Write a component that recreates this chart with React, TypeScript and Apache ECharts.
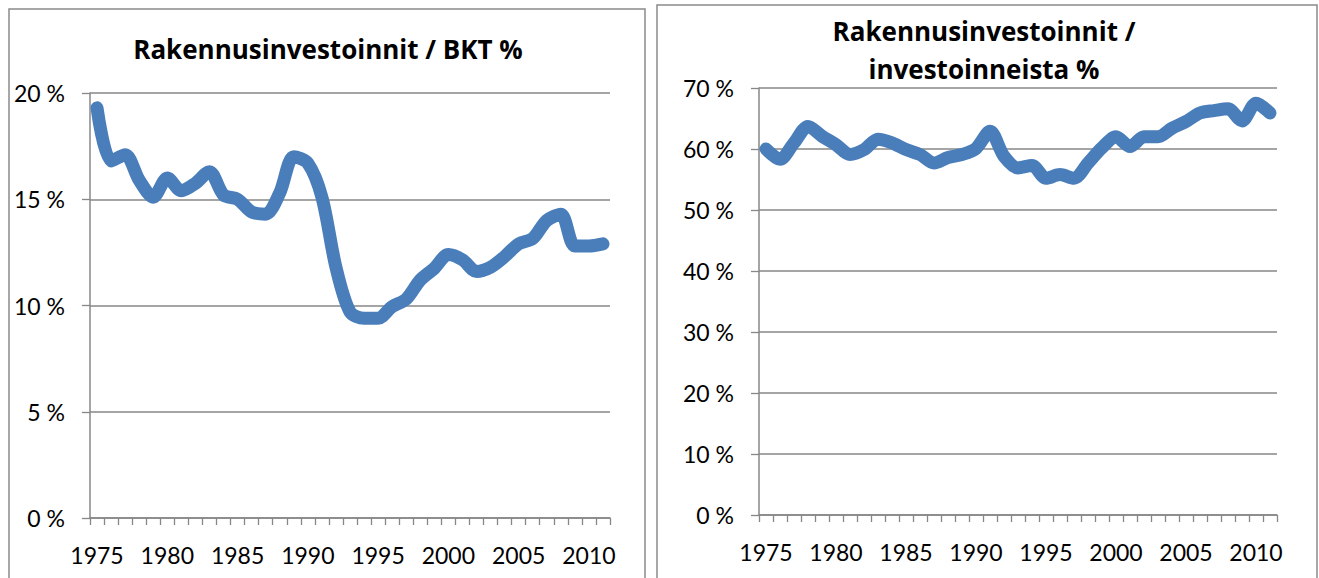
import React, { useEffect, useRef } from "react";
import * as echarts from "echarts";

const years: string[] = [
  "1975","1976","1977","1978","1979","1980","1981","1982","1983","1984",
  "1985","1986","1987","1988","1989","1990","1991","1992","1993","1994",
  "1995","1996","1997","1998","1999","2000","2001","2002","2003","2004",
  "2005","2006","2007","2008","2009","2010","2011",
];

// Rakennusinvestoinnit / BKT %
const gdpShare: number[] = [
  19.3, 16.8, 17.1, 15.9, 15.1, 16.0, 15.4, 15.75, 16.3, 15.2,
  15.0, 14.4, 14.3, 15.3, 17.0, 16.7, 15.1, 11.8, 9.7, 9.4,
  9.4, 9.95, 10.3, 11.2, 11.75, 12.4, 12.15, 11.6, 11.8, 12.3,
  12.9, 13.15, 14.0, 14.3, 12.8, 12.8, 12.9,
];

// Rakennusinvestoinnit / investoinneista %
const investShare: number[] = [
  60.0, 58.3, 61.0, 63.7, 62.1, 60.7, 59.1, 59.9, 61.6, 61.0,
  59.9, 59.1, 57.7, 58.6, 59.1, 60.1, 62.9, 58.8, 56.9, 57.3,
  55.2, 55.8, 55.2, 57.7, 60.2, 62.0, 60.4, 62.0, 62.0, 63.4,
  64.5, 65.9, 66.3, 66.6, 64.6, 67.5, 65.9,
];

const leftTitle = "Rakennusinvestoinnit / BKT %";
const rightTitle = "Rakennusinvestoinnit /\ninvestoinneista %";

const FONT = "Lato, 'Open Sans', sans-serif";
const TITLE_FONT = "'Open Sans', Lato, sans-serif";
const GRID = "#878787";
const BLUE = "#4A7EBB";
const RED = "#C0504D";

function xAxisCfg(gridIndex: number) {
  return {
    type: "category" as const,
    gridIndex,
    data: years,
    boundaryGap: true,
    axisLine: { show: true, lineStyle: { color: GRID, width: 1.5 } },
    axisTick: { show: true, interval: 0, length: 7, lineStyle: { color: GRID, width: 1.3 } },
    axisLabel: { interval: 4, margin: 25, fontSize: 23, color: "#000", fontFamily: FONT },
    splitLine: { show: false },
  };
}

function yAxisCfg(gridIndex: number, max: number, interval: number) {
  return {
    type: "value" as const,
    gridIndex,
    min: 0,
    max,
    interval,
    axisLine: { show: true, lineStyle: { color: GRID, width: 1.5 } },
    axisTick: { show: true, length: 8, lineStyle: { color: GRID, width: 1.3 } },
    axisLabel: {
      margin: 25,
      fontSize: 23,
      color: "#000",
      fontFamily: FONT,
      formatter: (v: number) => `${v} %`,
    },
    splitLine: { show: true, lineStyle: { color: GRID, width: 1.5 } },
  };
}

export default function App() {
  const ref = useRef<HTMLDivElement>(null);
  useEffect(() => {
    if (!ref.current) return;
    const chart = echarts.init(ref.current, null, { renderer: "svg" });
    chart.setOption({
      animation: false,
      backgroundColor: "#fff",
      title: [
        {
          text: leftTitle,
          left: 328,
          top: 34,
          padding: 0,
          textAlign: "center",
          textStyle: { fontFamily: TITLE_FONT, fontWeight: "bold", fontSize: 26, color: "#000", lineHeight: 30 },
        },
        {
          text: rightTitle,
          left: 984,
          top: 12,
          padding: 0,
          textAlign: "center",
          textStyle: { fontFamily: TITLE_FONT, fontWeight: "bold", fontSize: 26, color: "#000", lineHeight: 38 },
        },
      ],
      graphic: [
        { type: "rect", shape: { x: 9, y: 9, width: 636, height: 600 }, style: { fill: "none", stroke: "#8a8a8a", lineWidth: 1.5 }, silent: true },
        { type: "rect", shape: { x: 657, y: 5, width: 660, height: 600 }, style: { fill: "none", stroke: "#8a8a8a", lineWidth: 1.5 }, silent: true },
      ],
      grid: [
        { left: 90, top: 93, width: 520, height: 425 },
        { left: 759, top: 88, width: 518, height: 427 },
      ],
      xAxis: [xAxisCfg(0), xAxisCfg(1)],
      yAxis: [yAxisCfg(0, 20, 5), yAxisCfg(1, 70, 10)],
      series: [
        { type: "line", xAxisIndex: 0, yAxisIndex: 0, data: gdpShare, showSymbol: false, smooth: false, lineStyle: { color: RED, width: 1.5 }, z: 2 },
        { type: "line", xAxisIndex: 0, yAxisIndex: 0, data: gdpShare, showSymbol: false, smooth: 0.3, lineStyle: { color: BLUE, width: 13, cap: "round", join: "round" }, z: 3 },
        { type: "line", xAxisIndex: 1, yAxisIndex: 1, data: investShare, showSymbol: false, smooth: false, lineStyle: { color: RED, width: 1.5 }, z: 2 },
        { type: "line", xAxisIndex: 1, yAxisIndex: 1, data: investShare, showSymbol: false, smooth: 0.3, lineStyle: { color: BLUE, width: 13, cap: "round", join: "round" }, z: 3 },
      ],
    });
    return () => chart.dispose();
  }, []);
  return (
    <div
      ref={ref}
      style={{ position: "absolute", left: 0, top: 0, width: 1319, height: 578 }}
    />
  );
}
